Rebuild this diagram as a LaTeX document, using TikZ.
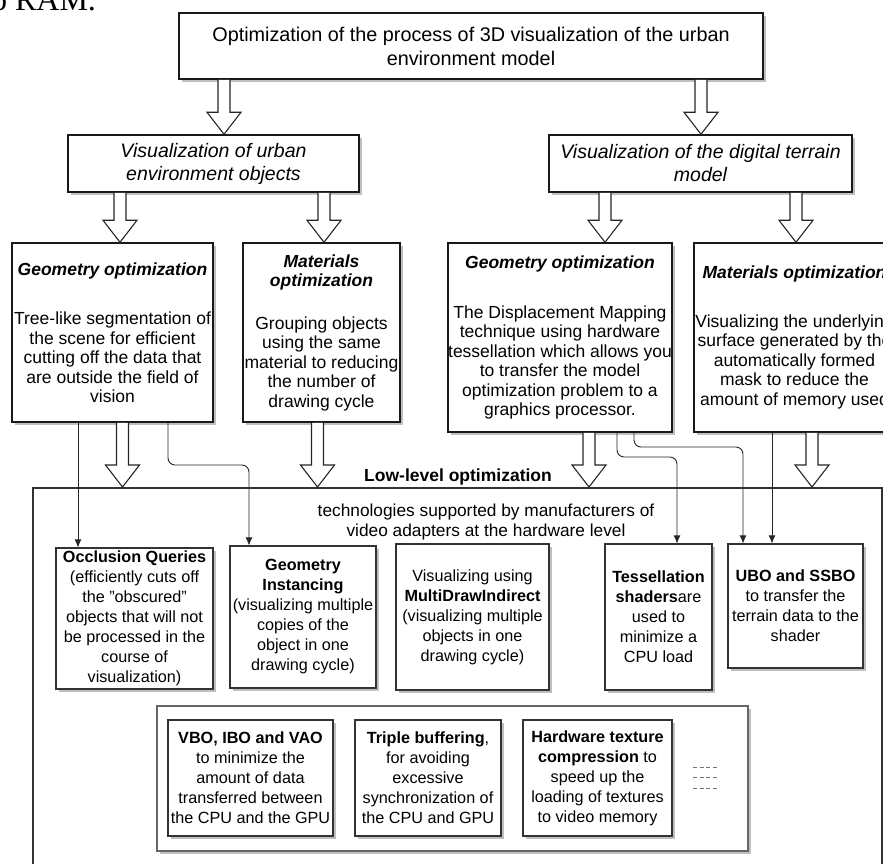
\documentclass[tikz,border=0pt]{standalone}
\usepackage{fontspec}
\setmainfont{Liberation Sans}
\newfontfamily\serifram{Liberation Serif}
\usetikzlibrary{shadows,calc,arrows.meta}
\newcommand{\boxttl}[1]{{\bfseries\itshape #1}}
\newcommand{\blockarrow}[2]{%
  \draw[blockar] let \p1=#1, \p2=#2 in
    (\x1-6pt,\y1) -- (\x1-6pt,\y2+22pt) -- (\x1-17pt,\y2+22pt) -- (\x1,\y2)
    -- (\x1+17pt,\y2+22pt) -- (\x1+6pt,\y2+22pt) -- (\x1+6pt,\y1);}
\tikzset{
  shad/.style={drop shadow={shadow xshift=2.5pt,shadow yshift=-2.5pt,opacity=0.25,fill=black}},
  bigbox/.style={draw=black!90, line width=1.5pt, fill=white, align=center, inner sep=0pt, shad,
                 font=\fontsize{17.5}{19.5}\selectfont},
  hdrbox/.style={bigbox, font=\fontsize{19.8}{24}\selectfont},
  itbox/.style={bigbox, font=\itshape\fontsize{19.5}{23}\selectfont},
  smallbox/.style={draw=black!80, line width=1.1pt, fill=white, align=center, inner sep=0pt, shad,
                 font=\fontsize{16.2}{20}\selectfont},
  contbox/.style={draw=black!60, line width=1.3pt, fill=white, inner sep=0pt, shad},
  llbox/.style={draw=black!80, line width=2pt, fill=white, inner sep=0pt},
  blockar/.style={draw=black!85, line width=1.1pt, fill=white},
  thinar/.style={draw=black!85, line width=0.9pt, -{Latex[length=8pt,width=7pt]}, rounded corners=7pt},
  lbl/.style={align=center, inner sep=0pt},
  dashln/.style={draw=black!55, line width=1pt, dash pattern=on 4pt off 2.7pt}
}
\begin{document}
\begin{tikzpicture}[x=1pt,y=-1pt]
\useasboundingbox (0,0) rectangle (883,863);

% page text fragment
\node[anchor=base west, inner sep=0pt, font=\serifram\fontsize{32}{36}\selectfont] (ram) at (-18,10) {to RAM.};

% low-level container
\node[llbox, minimum width=849pt, minimum height=402pt] (ll) at (457.5,689) {};

% level 1
\node[hdrbox, minimum width=584pt, minimum height=66pt] (n0) at (471,46)
  {Optimization of the process of 3D visualization of the urban\\environment model};

% level 2
\node[itbox, minimum width=291pt, minimum height=57pt] (vu) at (213.5,163.5)
  {Visualization of urban\\environment objects};
\node[itbox, minimum width=303pt, minimum height=57pt] (vt) at (700.5,163.5)
  {Visualization of the digital terrain\\model};

% level 3
\node[bigbox, minimum width=201pt, minimum height=179pt] (ga) at (112.5,332.5)
  {\boxttl{Geometry optimization}\\[30pt]Tree-like segmentation of\\the scene for efficient\\cutting off the data that\\are outside the field of\\vision};
\node[bigbox, minimum width=157pt, minimum height=179pt] (ma) at (321.5,332.5)
  {\boxttl{Materials}\\\boxttl{optimization}\\[23pt]Grouping objects\\using the same\\material to reducing\\the number of\\drawing cycle};
\node[bigbox, minimum width=224pt, minimum height=189pt] (gc) at (560,337.5)
  {\boxttl{Geometry optimization}\\[30pt]The Displacement Mapping\\technique using hardware\\tessellation which allows you\\to transfer the model\\optimization problem to a\\graphics processor.};
\node[bigbox, minimum width=201pt, minimum height=189pt] (mt) at (794.5,337.5)
  {\boxttl{Materials optimization}\\[29pt]Visualizing the underlying\\surface generated by the\\automatically formed\\mask to reduce the\\amount of memory used};

% labels of the low-level box
\node[lbl, font=\bfseries\fontsize{17.5}{20}\selectfont] (lltitle) at (458,477) {Low-level optimization};
\node[lbl, font=\fontsize{17.3}{20}\selectfont] (lltext) at (486,522)
  {technologies supported by manufacturers of\\video adapters at the hardware level};

% row 1
\node[smallbox, minimum width=157pt, minimum height=141pt] (oq) at (134.5,618.5)
  {\textbf{Occlusion Queries}\\(efficiently cuts off\\the "obscured"\\objects that will not\\be processed in the\\course of\\visualization)};
\node[smallbox, minimum width=146pt, minimum height=142pt] (gi) at (303,617)
  {\textbf{Geometry}\\\textbf{Instancing}\\(visualizing multiple\\copies of the\\object in one\\drawing cycle)};
\node[smallbox, minimum width=153pt, minimum height=146pt] (mdi) at (472.5,617)
  {Visualizing using\\\textbf{MultiDrawIndirect}\\(visualizing multiple\\objects in one\\drawing cycle)};
\node[smallbox, minimum width=107pt, minimum height=146pt] (ts) at (658.5,617)
  {\textbf{Tessellation}\\\textbf{shaders}are\\used to\\minimize a\\CPU load};
\node[smallbox, minimum width=135pt, minimum height=124pt] (ub) at (795.5,606)
  {\textbf{UBO and SSBO}\\to transfer the\\terrain data to the\\shader};

% row 2
\node[contbox, minimum width=591pt, minimum height=145pt] (cont) at (452.5,778.5) {};
\node[smallbox, minimum width=165pt, minimum height=116pt] (vbo) at (250.5,778)
  {\textbf{VBO, IBO and VAO}\\to minimize the\\amount of data\\transferred between\\the CPU and the GPU};
\node[smallbox, minimum width=146pt, minimum height=116pt] (tb) at (428,778)
  {\textbf{Triple buffering},\\for avoiding\\excessive\\synchronization of\\the CPU and GPU};
\node[smallbox, minimum width=149pt, minimum height=116pt] (hw) at (597.5,778)
  {\textbf{Hardware texture}\\\textbf{compression} to\\speed up the\\loading of textures\\to video memory};
\coordinate (d1a) at (693,767); \coordinate (d1b) at (717,767);
\coordinate (d2a) at (693,777.5); \coordinate (d2b) at (717,777.5);
\coordinate (d3a) at (693,788); \coordinate (d3b) at (717,788);
\draw[dashln] (d1a) -- (d1b);
\draw[dashln] (d2a) -- (d2b);
\draw[dashln] (d3a) -- (d3b);

% block arrows
\blockarrow{(n0.south -| 224,0)}{(vu.north -| 224,0)}
\blockarrow{(n0.south -| 701,0)}{(vt.north -| 701,0)}
\blockarrow{(vu.south -| 120,0)}{(ga.north -| 120,0)}
\blockarrow{(vu.south -| 324,0)}{(ma.north -| 324,0)}
\blockarrow{(vt.south -| 605,0)}{(gc.north -| 605,0)}
\blockarrow{(vt.south -| 796,0)}{(mt.north -| 796,0)}
\blockarrow{(ga.south -| 122.5,0)}{(ll.north -| 122.5,0)}
\blockarrow{(ma.south -| 317.5,0)}{(ll.north -| 317.5,0)}
\blockarrow{(gc.south -| 589,0)}{(ll.north -| 589,0)}
\blockarrow{(mt.south -| 812,0)}{(ll.north -| 812,0)}

% thin connectors
\draw[thinar] (ga.south -| 78,0) -- (oq.north -| 78,0);
\draw[thinar] (ga.south -| 168,0) -- (168,465) -- (249,465) -- (gi.north -| 249,0);
\draw[thinar] (gc.south -| 617,0) -- (617,457) -- (677,457) -- (ts.north -| 677,0);
\draw[thinar] (gc.south -| 634,0) -- (634,447) -- (743,447) -- (ub.north -| 743,0);
\draw[thinar] (mt.south -| 772,0) -- (ub.north -| 772,0);
\end{tikzpicture}
\end{document}
